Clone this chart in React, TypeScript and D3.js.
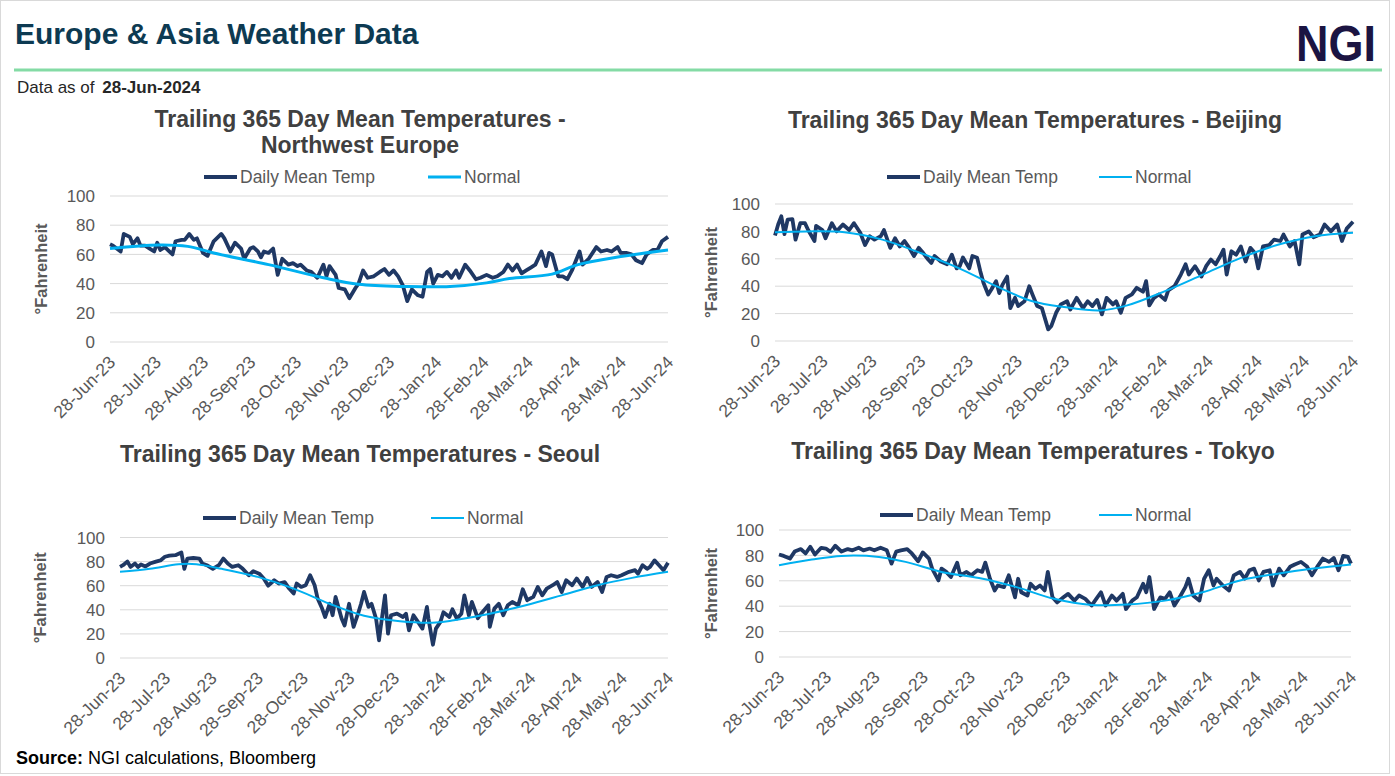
import React from "react";
import * as d3 from "d3";

const FONT = "'Liberation Sans', Arial, Helvetica, sans-serif";

// ---------- shared axis data ----------
const tickLabels = [
  "28-Jun-23", "28-Jul-23", "28-Aug-23", "28-Sep-23", "28-Oct-23", "28-Nov-23", "28-Dec-23",
  "28-Jan-24", "28-Feb-24", "28-Mar-24", "28-Apr-24", "28-May-24", "28-Jun-24",
];
const yTicks = [0, 20, 40, 60, 80, 100];
const seriesNames = ["Daily Mean Temp", "Normal"];

type Pt = [number, number]; // [days since 28-Jun-23, °F]

// ---------- Northwest Europe ----------
const nweDaily: Pt[] = [
  [0,67],[2,66],[7,62],[9,74],[13,72],[15,67],[18,71],[20,66],[23,66],[26,64],[29,62],[31,68],[33,63],[36,65],[38,63],[41,60],
  [43,69],[47,70],[49,70],[52,74],[55,70],[57,71],[61,61],[64,59],[68,69],[73,74],[75,71],[79,62],[82,68],[86,64],[88,57],[92,64],
  [94,65],[97,62],[99,58],[101,62],[104,61],[107,64],[110,46],[113,57],[117,53],[120,54],[123,52],[125,53],[129,49],[132,48],[136,44],
  [140,53],[142,45],[144,52],[148,46],[150,37],[154,36],[157,30],[161,37],[163,40],[166,49],[169,44],[173,45],[177,48],[180,50],[183,46],
  [186,49],[189,45],[192,39],[195,28],[198,36],[202,32],[205,31],[208,48],[210,50],[212,40],[215,46],[218,45],[221,48],[224,44],[227,49],
  [229,44],[233,53],[236,49],[240,43],[243,44],[247,46],[251,44],[254,45],[258,48],[261,53],[264,49],[267,53],[270,47],[273,49],[276,51],
  [279,53],[283,62],[286,52],[288,61],[290,60],[294,45],[297,45],[300,43],[303,49],[308,62],[310,53],[314,57],[319,65],[322,62],[326,63],
  [329,62],[333,65],[335,61],[339,61],[342,60],[345,56],[349,54],[352,60],[356,63],[359,63],[362,69],[366,72],
];
const nweNormal: Pt[] = [
  [0,64],[32,66.5],[51,65.5],[68,61],[104,53],[140,44],[163,39.5],[195,38],[223,38],[247,40.5],[262,43.5],[290,46.5],[307,53],[335,58.5],[366,63],
];

// ---------- Beijing ----------
const beijingDaily: Pt[] = [
  [0,77],[2,85],[4,91],[6,78],[8,88.6],[11,89],[13,74],[16,86],[19,86],[21,81],[25,73],[26,84],[30,81],[32,75],[36,86],[39,80],
  [43,85],[47,81],[50,86],[54,79],[57,70],[60,76.5],[63,74],[67,76.5],[69,81],[73,68],[76,75],[79,69],[82,73],[85,68],[88,62],[91,68],
  [94,64],[97,59.5],[99,57],[101,62],[105,58],[109,56],[112,63],[115,53],[117,54.6],[119,61],[123,53],[125,62],[128,60.7],[130,51],
  [132,42.5],[135,34],[137,37.6],[140,43.7],[142,35],[144,41],[147,47],[149,24],[152,31.5],[154,25.5],[158,29],[161,40],[163,34],
  [166,25.5],[169,24],[173,8.5],[175,11],[178,20.6],[181,26.7],[185,29],[187,23],[191,31.5],[195,24],[198,29],[201,25.5],[204,30],
  [207,19.4],[210,31.5],[214,26.7],[216,29],[219,20.6],[222,31.5],[226,34],[229,38.8],[233,36],[235,43.7],[237,26],[240,31.5],[243,34],
  [247,30],[249,37],[253,40],[257,48.5],[260,56],[262,48.5],[266,54.6],[270,47],[273,54.6],[276,59.5],[279,56],[282,62],[284,66.7],
  [286,48.5],[289,65.5],[292,63],[295,69],[298,58],[301,68],[304,64],[306,53],[309,69],[313,70],[316,74],[320,73],[322,77.7],[326,69],
  [329,73],[332,56],[334,77.7],[338,80],[341,75.7],[345,77.7],[348,85],[352,80],[356,85],[359,73],[362,82],[366,87],
];
const beijingNormal: Pt[] = [
  [0,79.4],[20,80],[44,79.4],[68,74],[92,64.3],[116,53.4],[140,40],[163,29],[183,24.8],[206,22.3],[223,26],[247,36.4],[271,48.5],
  [295,60.7],[319,70.4],[342,76.5],[366,79],
];

// ---------- Seoul ----------
const seoulDaily: Pt[] = [
  [0,75.6],[2,77],[5,80],[7,75.6],[10,78.4],[12,75.6],[14,77.6],[17,76],[20,78.4],[24,80],[27,81],[30,84],[33,85],[37,85.3],[41,87.5],
  [43,74],[45,82.5],[49,83],[53,82.5],[55,78.4],[58,77],[62,74],[66,77],[69,82.5],[72,78.4],[75,75.6],[79,77],[82,74],[86,68.7],[89,72],
  [93,70],[96,66],[99,60],[103,64.5],[106,61.8],[110,63],[113,57.6],[116,53.5],[118,61.8],[121,59],[124,60.4],[127,68.7],[130,60.4],
  [132,49.3],[135,41],[137,34],[140,45],[142,35.5],[144,50.7],[148,32.7],[150,27],[153,45],[156,25.8],[159,36.8],[161,45],[163,54.8],
  [166,42.4],[168,45],[171,32.7],[173,14.7],[174,24.4],[177,52],[179,20.2],[181,35.5],[185,36.8],[189,34],[191,36.8],[193,23],[196,35.5],
  [199,30],[202,24.4],[205,42.4],[206,32.7],[209,11],[211,24.4],[214,30],[216,38],[220,34],[222,40.4],[225,32.7],[228,36.8],[230,52],
  [233,35.5],[235,46.5],[239,33],[242,38],[246,43.8],[247,25.8],[250,41],[253,45],[256,35.5],[259,43.8],[262,46.5],[266,43.8],[269,57],
  [272,48],[276,50.7],[279,59],[282,52],[285,57.6],[289,60.4],[292,63],[295,54.8],[298,64.5],[302,60.4],[305,66],[309,59],[312,66.5],
  [315,59],[319,63],[322,54.8],[325,67.3],[328,68.7],[332,67.3],[335,68.7],[340,71.5],[344,72.9],[346,70],[349,77],[352,74],[354,75.6],
  [357,81],[360,77],[363,72.9],[366,79],
];
const seoulNormal: Pt[] = [
  [0,71.5],[20,74],[39,77.8],[51,77.8],[68,74],[92,67.3],[116,57.6],[140,45],[163,35],[187,30.5],[211,29.4],[223,31.3],[247,36.8],
  [271,43.8],[295,52],[319,60.4],[342,66.5],[366,71.5],
];

// ---------- Tokyo ----------
const tokyoDaily: Pt[] = [
  [0,80.7],[3,79.6],[7,77.5],[10,83],[14,85],[17,81.5],[20,86.8],[23,80.7],[27,86],[30,85.4],[33,82.8],[36,87.6],[40,83],[44,85],
  [47,84],[51,86],[54,84],[58,85.4],[61,84],[65,86],[69,84],[72,73.5],[75,83],[78,84],[82,85],[85,81.5],[89,75.4],[92,82.3],[96,77.5],
  [98,69.6],[102,60.3],[104,69.6],[107,67],[110,63],[114,74.3],[116,64.3],[120,67],[123,64.3],[127,68.3],[130,67],[132,74.3],[135,61.6],
  [138,52.4],[140,56.3],[144,55],[147,64.3],[151,47],[153,61.6],[155,51],[159,48.4],[161,57.7],[164,53.7],[167,56.3],[170,52.4],[172,67],
  [175,47],[178,43],[182,47],[185,49.7],[189,44.4],[192,48.4],[196,45.8],[200,40.5],[203,45.8],[206,51],[209,40.5],[213,48.4],[216,44.4],
  [220,49.7],[222,37.8],[226,44.4],[229,47],[233,57.7],[235,51],[237,63],[240,37.8],[244,47],[247,45.8],[250,51],[253,40.5],[257,48.4],
  [260,55],[262,61.6],[265,48.4],[269,44.4],[272,61.6],[275,68.3],[278,56.3],[280,61.6],[284,56.3],[288,52.4],[291,64.3],[295,67],
  [298,61.6],[301,68.3],[304,69.6],[307,60.3],[310,67],[314,68.3],[316,56.3],[320,69.6],[323,64.3],[327,71],[330,72.8],[334,74.9],
  [338,71],[341,64.3],[345,72.2],[348,77.5],[352,74.9],[355,78],[358,68.3],[361,79.6],[364,78.8],[366,73.5],
];
const tokyoNormal: Pt[] = [
  [0,72.2],[21,76.7],[40,79.6],[64,78.8],[81,74.9],[104,67],[128,62.2],[152,55],[176,45.8],[200,41],[223,41.3],[247,44.4],[271,51],
  [295,60.3],[319,65.6],[342,69.6],[366,72.8],
];

// ---------- layout (positions / styles) ----------
const panels = [
  {
    title: ["Trailing 365 Day Mean Temperatures -", "Northwest Europe"], titleX: 360, titleY: 127,
    daily: nweDaily, normal: nweNormal, normalW: 3,
    x0: 110, x1: 668, y0: 342, y1: 196, legendY: 177, leg1: 204, leg2: 428, yTitleX: 41,
  },
  {
    title: ["Trailing 365 Day Mean Temperatures - Beijing"], titleX: 1035, titleY: 128,
    daily: beijingDaily, normal: beijingNormal, normalW: 2,
    x0: 775, x1: 1353, y0: 341, y1: 204, legendY: 177, leg1: 887, leg2: 1099, yTitleX: 711,
  },
  {
    title: ["Trailing 365 Day Mean Temperatures - Seoul"], titleX: 360, titleY: 462,
    daily: seoulDaily, normal: seoulNormal, normalW: 2,
    x0: 120, x1: 668, y0: 658, y1: 537.5, legendY: 518, leg1: 203, leg2: 431, yTitleX: 40,
  },
  {
    title: ["Trailing 365 Day Mean Temperatures - Tokyo"], titleX: 1033, titleY: 459,
    daily: tokyoDaily, normal: tokyoNormal, normalW: 2,
    x0: 779, x1: 1351, y0: 657, y1: 530, legendY: 515, leg1: 880, leg2: 1099, yTitleX: 711,
  },
];

const parse = d3.timeParse("%d-%b-%y");
const fmt = d3.timeFormat("%d-%b-%y");
const tickDates = tickLabels.map((t) => parse(t) as Date);

function Panel({ p }: { p: any }) {
  const start = tickDates[0];
  const end = tickDates[tickDates.length - 1];
  const x = d3.scaleTime().domain([start, end]).range([p.x0, p.x1]);
  const y = d3.scaleLinear().domain([0, 100]).range([p.y0, p.y1]);
  const toDate = (d: number) => d3.timeDay.offset(start, d);
  const daily = d3.line<Pt>().x((d) => x(toDate(d[0]))).y((d) => y(d[1])).curve(d3.curveLinear);
  const normal = d3.line<Pt>().x((d) => x(toDate(d[0]))).y((d) => y(d[1])).curve(d3.curveCatmullRom);
  const yMid = (p.y0 + p.y1) / 2;
  return (
    <g>
      {p.title.map((t: string, i: number) => (
        <text key={i} x={p.titleX} y={p.titleY + i * 26} textAnchor="middle" fontFamily={FONT}
          fontWeight="bold" fontSize={23} fill="#404040">{t}</text>
      ))}
      {/* legend */}
      <line x1={p.leg1} x2={p.leg1 + 33} y1={p.legendY} y2={p.legendY} stroke="#1f3864" strokeWidth={4} />
      <text x={p.leg1 + 36} y={p.legendY} dy="0.36em" fontFamily={FONT} fontSize={17.5} fill="#595959">{seriesNames[0]}</text>
      <line x1={p.leg2} x2={p.leg2 + 33} y1={p.legendY} y2={p.legendY} stroke="#00b0f0" strokeWidth={p.normalW} />
      <text x={p.leg2 + 36} y={p.legendY} dy="0.36em" fontFamily={FONT} fontSize={17.5} fill="#595959">{seriesNames[1]}</text>
      {/* grid + y ticks */}
      {yTicks.map((t) => (
        <g key={t}>
          <line x1={p.x0} x2={p.x1} y1={y(t)} y2={y(t)} stroke="#d9d9d9" strokeWidth={1} />
          <text x={p.x0 - 15} y={y(t)} dy="0.36em" textAnchor="end" fontFamily={FONT} fontSize={17} fill="#595959">{t}</text>
        </g>
      ))}
      <text transform={`translate(${p.yTitleX},${yMid}) rotate(-90)`} textAnchor="middle" dy="0.36em"
        fontFamily={FONT} fontWeight="bold" fontSize={16.5} fill="#595959">°Fahrenheit</text>
      {/* x ticks */}
      {tickDates.map((d, i) => (
        <text key={i} transform={`translate(${x(d) + 2},${p.y0 + 17}) rotate(-45)`} textAnchor="end" dy="0.36em"
          fontFamily={FONT} fontSize={17.5} fill="#595959">{fmt(d)}</text>
      ))}
      <path d={daily(p.daily) || ""} fill="none" stroke="#1f3864" strokeWidth={3.8} strokeLinejoin="round" />
      <path d={normal(p.normal) || ""} fill="none" stroke="#00b0f0" strokeWidth={p.normalW} strokeLinejoin="round" />
    </g>
  );
}

export default function App() {
  return (
    <div style={{ position: "absolute", left: 0, top: 0 }}>
      <svg width={1395} height={776} style={{ display: "block", background: "#fff" }}>
        <rect x={0.5} y={0.5} width={1389} height={773} fill="#fff" stroke="#d9d9d9" />
        <text x={15} y={44} fontFamily={FONT} fontWeight="bold" fontSize={30} fill="#0d3a52">Europe &amp; Asia Weather Data</text>
        <text x={1296} y={61} fontFamily={FONT} fontWeight="bold" fontSize={50} fill="#1b1442"
          textLength={80} lengthAdjust="spacingAndGlyphs">NGI</text>
        <line x1={14} x2={1382} y1={70} y2={70} stroke="#84dba5" strokeWidth={3} />
        <text x={17} y={93} fontFamily={FONT} fontSize={17} fill="#262626">
          Data as of <tspan dx={3} fontWeight="bold">28-Jun-2024</tspan>
        </text>
        {panels.map((p, i) => <Panel key={i} p={p} />)}
        <text x={16} y={764} fontFamily={FONT} fontSize={18} fill="#000">
          <tspan fontWeight="bold">Source:</tspan> NGI calculations, Bloomberg
        </text>
      </svg>
    </div>
  );
}
